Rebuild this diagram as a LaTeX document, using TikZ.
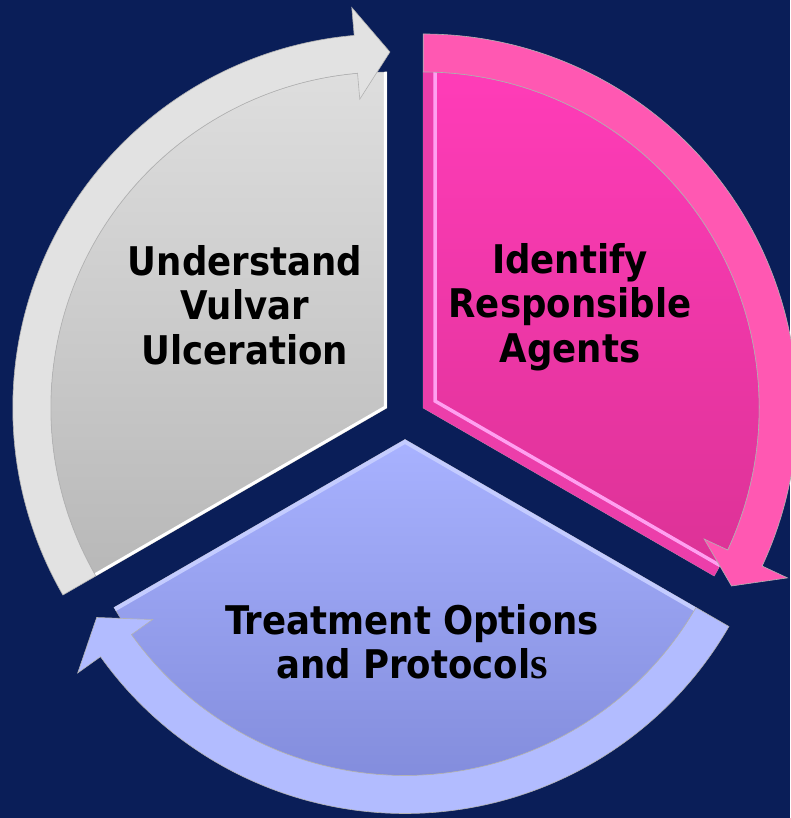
\documentclass[tikz,border=0pt]{standalone}
\usepackage{fontspec}
\newfontfamily\lblfamily{DejaVu Sans Condensed}
\newfontfamily\serifletter{Liberation Serif}
\usetikzlibrary{calc}

\definecolor{navybg}{RGB}{10,30,88}
\definecolor{grayband}{RGB}{226,226,226}
\definecolor{graytop}{RGB}{222,222,222}
\definecolor{graybot}{RGB}{184,184,184}
\definecolor{pinkband}{RGB}{255,88,178}
\definecolor{pinktop}{RGB}{255,60,184}
\definecolor{pinkbot}{RGB}{220,50,150}
\definecolor{pinkedge}{RGB}{236,62,170}
\definecolor{pinkhi}{RGB}{255,160,240}
\definecolor{blueband}{RGB}{178,188,255}
\definecolor{bluetop}{RGB}{168,178,255}
\definecolor{bluebot}{RGB}{126,136,216}
\definecolor{bluehi}{RGB}{196,204,255}

\tikzset{
  segbody/.style={draw=black!35, line width=0.5pt},
  segband/.style={draw=black!30, line width=0.6pt},
  lbl/.style={font=\lblfamily\bfseries\fontsize{39.5}{44.5}\selectfont,
              align=center, inner sep=0pt, text=black},
}

\begin{document}
\begin{tikzpicture}[x=1pt,y=1pt]
  % canvas
  \fill[navybg] (0,0) rectangle (790,818);
  \useasboundingbox (0,0) rectangle (790,818);

  % ---- left segment (grey), arrow runs up to the top ----
  \begin{scope}[shift={(386.8,410)}]
    \coordinate (gc) at (0,0);
    \path[segbody, top color=graytop, bottom color=graybot]
      (gc) -- (90:336pt) arc[start angle=90, end angle=210, radius=336pt] -- cycle;
    \begin{scope}
      \clip (gc) -- (90:336pt) arc[start angle=90, end angle=210, radius=336pt] -- cycle;
      \draw[white, line width=6pt] (90:340pt) -- (gc) -- (210:340pt);
    \end{scope}
    \path[segband, fill=grayband]
      (210:336pt) -- (210:374pt) arc[start angle=210, end angle=95, radius=374pt]
      -- (95:402pt) -- (89.5:356pt) -- (95:310pt) -- (95:336pt)
      arc[start angle=95, end angle=210, radius=336pt] -- cycle;
  \end{scope}

  % ---- right segment (pink), arrow runs down to the lower right ----
  \begin{scope}[shift={(423.2,410)}]
    \coordinate (pc) at (0,0);
    \path[segbody, top color=pinktop, bottom color=pinkbot]
      (pc) -- (90:336pt) arc[start angle=90, end angle=-30, radius=336pt] -- cycle;
    \begin{scope}
      \clip (pc) -- (90:336pt) arc[start angle=90, end angle=-30, radius=336pt] -- cycle;
      \draw[pinkedge, line width=20pt] (90:340pt) -- (pc) -- (-30:340pt);
      \draw[pinkhi, line width=3.5pt] (12,340) -- (12,6.9) -- ($(12,6.9)+(-30:340pt)$);
    \end{scope}
    \path[segband, fill=pinkband]
      (90:336pt) -- (90:374pt) arc[start angle=90, end angle=-25, radius=374pt]
      -- (-25:402pt) -- (-30:356pt) -- (-25:310pt) -- (-25:336pt)
      arc[start angle=-25, end angle=90, radius=336pt] -- cycle;
  \end{scope}

  % ---- bottom segment (blue), arrow runs round to the left ----
  \begin{scope}[shift={(405,378.5)}]
    \coordinate (bc) at (0,0);
    \path[segbody, top color=bluetop, bottom color=bluebot]
      (bc) -- (210:336pt) arc[start angle=210, end angle=330, radius=336pt] -- cycle;
    \begin{scope}
      \clip (bc) -- (210:336pt) arc[start angle=210, end angle=330, radius=336pt] -- cycle;
      \draw[bluehi, line width=8pt] (210:340pt) -- (bc) -- (330:340pt);
    \end{scope}
    \path[segband, fill=blueband]
      (330:336pt) -- (330:374pt) arc[start angle=330, end angle=215.5, radius=374pt]
      -- (215.5:402pt) -- (210:356pt) -- (215.5:310pt) -- (215.5:336pt)
      arc[start angle=215.5, end angle=330, radius=336pt] -- cycle;
  \end{scope}

  % ---- labels ----
  \node[lbl] (under) at (245,513) {Understand\\Vulvar\\Ulceration};
  \node[lbl] (ident) at (570,511) {Identify\\Responsible\\Agents};
  \node[lbl] (treat) at (412,176)
    {Treatment Options\\and Protoco{l}{\serifletter\bfseries\fontsize{45}{44.5}\selectfont s}};
\end{tikzpicture}
\end{document}
